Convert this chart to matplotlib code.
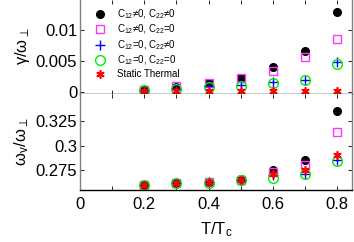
import matplotlib
matplotlib.use("Agg")
from matplotlib import pyplot as plt
from matplotlib.ticker import FixedLocator, FixedFormatter

plt.rcParams['font.family'] = ['Liberation Sans', 'DejaVu Sans']
plt.rcParams['mathtext.fontset'] = 'custom'
plt.rcParams['mathtext.rm'] = 'Liberation Sans'
plt.rcParams['mathtext.it'] = 'Liberation Sans'

# ---- data ----
T = [0.2, 0.3, 0.4, 0.5, 0.6, 0.7, 0.8]

gamma_both = [0.0003, 0.0008, 0.0014, 0.0022, 0.0041, 0.0066, 0.0129]
gamma_c12 = [0.0003, 0.0010, 0.0015, 0.0023, 0.0034, 0.0056, 0.0086]
gamma_c22 = [0.0003, 0.0006, 0.0010, 0.0011, 0.0016, 0.0020, 0.0049]
gamma_none = [0.0003, 0.0005, 0.0008, 0.0010, 0.0015, 0.0019, 0.0045]
gamma_static = [0.0001, 0.0001, 0.0001, 0.0001, 0.0001, 0.0002, 0.0002]

omega_both = [0.2607, 0.2622, 0.2632, 0.2660, 0.2750, 0.2852, 0.3345]
omega_c12 = [0.2607, 0.2622, 0.2635, 0.2658, 0.2735, 0.2800, 0.3135]
omega_c22 = [0.2605, 0.2620, 0.2630, 0.2655, 0.2700, 0.2716, 0.2859]
omega_none = [0.2605, 0.2620, 0.2628, 0.2652, 0.2670, 0.2716, 0.2845]
omega_static = [0.2605, 0.2620, 0.2630, 0.2655, 0.2716, 0.2750, 0.2910]

labels = ["C$_{12}$≠0, C$_{22}$≠0", "C$_{12}$≠0, C$_{22}$=0",
          "C$_{12}$=0, C$_{22}$≠0", "C$_{12}$=0, C$_{22}$=0", "Static Thermal"]

styles = [dict(marker='o', color='k', mfc='k', ms=5.5, ls='none'),
          dict(marker='s', color='#ff33ff', mfc='none', ms=5.8, mew=1.0, ls='none'),
          dict(marker='+', color='#0000ff', ms=7, mew=1.0, ls='none'),
          dict(marker='o', color='#00ee00', mfc='none', ms=7, mew=1.0, ls='none'),
          dict(marker=(6, 2, 0), color='#ff0000', ms=6, mew=1.2, ls='none')]

fig = plt.figure(figsize=[3.54, 2.42], dpi=100)
ax1 = fig.add_axes([0.226, 0.612, 0.768, 0.39])
ax2 = fig.add_axes([0.226, 0.215, 0.768, 0.397])

for g, s, lab in zip([gamma_both, gamma_c12, gamma_c22, gamma_none, gamma_static], styles, labels):
    ax1.plot(T, g, label=lab, **s)
for w, s in zip([omega_both, omega_c12, omega_c22, omega_none, omega_static], styles):
    ax2.plot(T, w, **s)

xt = [0, 0.1, 0.2, 0.3, 0.4, 0.5, 0.6, 0.7, 0.8]
xl = ["0", "", "0.2", "", "0.4", "", "0.6", "", "0.8"]
for ax in (ax1, ax2):
    ax.set_xlim(0, 0.846)
    ax.xaxis.set_major_locator(FixedLocator(xt))
    ax.tick_params(direction='in', length=3, width=0.6, top=True, right=True,
                   labelsize=12, pad=2)
    ax.tick_params(axis='x', pad=5)
    for side in ('left', 'right'):
        ax.spines[side].set_color('0.5')
        ax.spines[side].set_linewidth(1.0)
    ax.spines['top'].set_visible(False)
    ax.spines['bottom'].set_linewidth(1.0)

ax1.xaxis.set_major_formatter(FixedFormatter([""] * len(xt)))
ax2.xaxis.set_major_formatter(FixedFormatter(xl))

ax1.set_ylim(-0.0003, 0.0149)
ax1.set_yticks([0, 0.005, 0.01])
ax1.set_yticklabels(["0", "0.005", "0.01"])
ax2.set_ylim(0.2553, 0.352)
ax2.set_yticks([0.275, 0.3, 0.325])
ax2.set_yticklabels(["0.275", "0.3", "0.325"])

ax1.set_ylabel("γ/ω$_\\perp$", fontsize=12, labelpad=3)
ax2.set_ylabel("ω$_v$/ω$_\\perp$", fontsize=12, labelpad=3)
ax2.set_xlabel("T/T$_c$", fontsize=12, labelpad=6)
fig.align_ylabels([ax1, ax2])

ax1.legend(loc='upper left', bbox_to_anchor=(0.024, 0.96), frameon=False, fontsize=7,
           handletextpad=0.7, labelspacing=0.2, borderaxespad=0.0, handlelength=2.0)

fig.savefig("out.png", dpi=100)
